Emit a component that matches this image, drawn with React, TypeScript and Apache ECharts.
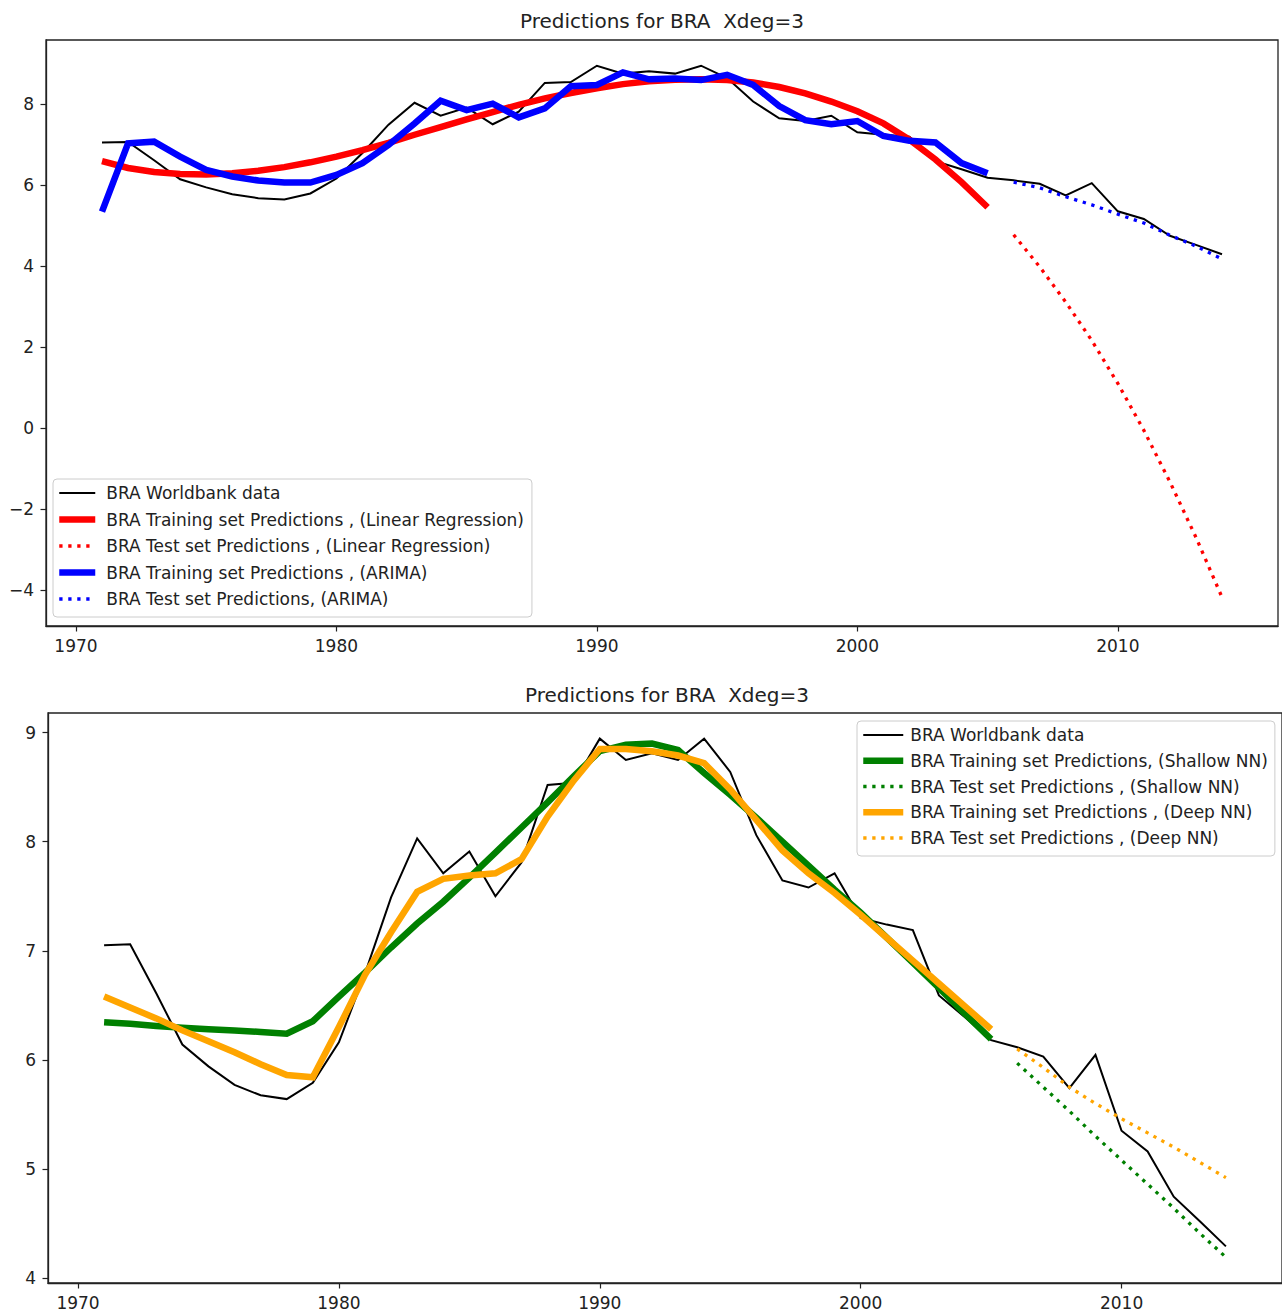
import React, { useEffect, useRef } from "react";
import * as echarts from "echarts";

const FONT = "DejaVu Sans";

// ---------- data ----------
const years = [
  1971, 1972, 1973, 1974, 1975, 1976, 1977, 1978, 1979, 1980,
  1981, 1982, 1983, 1984, 1985, 1986, 1987, 1988, 1989, 1990,
  1991, 1992, 1993, 1994, 1995, 1996, 1997, 1998, 1999, 2000,
  2001, 2002, 2003, 2004, 2005, 2006, 2007, 2008, 2009, 2010,
  2011, 2012, 2013, 2014,
];
const trainYears = years.slice(0, 35);
const testYears = years.slice(35);

const worldbank = [
  7.05, 7.06, 6.61, 6.14, 5.94, 5.77, 5.675, 5.64, 5.79, 6.16,
  6.79, 7.49, 8.03, 7.71, 7.91, 7.5, 7.81, 8.52, 8.54, 8.945,
  8.75, 8.81, 8.75, 8.945, 8.64, 8.06, 7.645, 7.58, 7.71, 7.3,
  7.24, 7.19, 6.59, 6.39, 6.18, 6.115, 6.03, 5.74, 6.045, 5.35,
  5.16, 4.745, 4.52, 4.29,
];

const lrTrain = [
  6.59, 6.42, 6.32, 6.27, 6.26, 6.29, 6.35, 6.44, 6.56, 6.7,
  6.86, 7.04, 7.24, 7.43, 7.62, 7.8, 7.98, 8.14, 8.27, 8.39,
  8.49, 8.56, 8.6, 8.61, 8.59, 8.53, 8.42, 8.26, 8.06, 7.82,
  7.52, 7.12, 6.63, 6.07, 5.45,
];
const lrTest = [4.77, 3.98, 3.11, 2.16, 1.1, -0.06, -1.33, -2.7, -4.18];

const arimaTrain = [
  5.34, 7.03, 7.07, 6.7, 6.37, 6.21, 6.11, 6.06, 6.06, 6.25,
  6.54, 6.99, 7.52, 8.08, 7.85, 8.01, 7.67, 7.89, 8.44, 8.47,
  8.78, 8.61, 8.63, 8.59, 8.72, 8.47, 7.95, 7.6, 7.5, 7.58,
  7.21, 7.09, 7.05, 6.54, 6.29,
];
const arimaTest = [6.07, 5.93, 5.71, 5.51, 5.28, 5.06, 4.76, 4.49, 4.17];

const shallowTrain = [
  6.345, 6.33, 6.31, 6.295, 6.28, 6.27, 6.255, 6.24, 6.354, 6.58,
  6.8, 7.03, 7.25, 7.45, 7.67, 7.9, 8.13, 8.36, 8.6, 8.83,
  8.89, 8.9, 8.84, 8.63, 8.43, 8.22, 8.0, 7.78, 7.56, 7.35,
  7.12, 6.89, 6.66, 6.42, 6.19,
];
const shallowTest = [5.97, 5.75, 5.53, 5.3, 5.08, 4.86, 4.64, 4.41, 4.19];

const deepTrain = [
  6.58, 6.48, 6.38, 6.27, 6.17, 6.07, 5.96, 5.86, 5.84, 6.3,
  6.78, 7.17, 7.54, 7.66, 7.69, 7.71, 7.84, 8.23, 8.56, 8.85,
  8.85, 8.83, 8.79, 8.72, 8.48, 8.2, 7.92, 7.71, 7.53, 7.33,
  7.12, 6.91, 6.7, 6.49, 6.28,
];
const deepTest = [6.1, 5.93, 5.75, 5.6, 5.46, 5.33, 5.2, 5.06, 4.92];

const xTicks = [1970, 1980, 1990, 2000, 2010];
const yTicksTop = [-4, -2, 0, 2, 4, 6, 8];
const yTicksBottom = [4, 5, 6, 7, 8, 9];

const titleText = "Predictions for BRA  Xdeg=3";

const nWorld = "BRA Worldbank data";
const nLrTrain = "BRA Training set Predictions , (Linear Regression)";
const nLrTest = "BRA Test set Predictions , (Linear Regression)";
const nArTrain = "BRA Training set Predictions , (ARIMA)";
const nArTest = "BRA Test set Predictions, (ARIMA)";
const nShTrain = "BRA Training set Predictions, (Shallow NN)";
const nShTest = "BRA Test set Predictions , (Shallow NN)";
const nDpTrain = "BRA Training set Predictions , (Deep NN)";
const nDpTest = "BRA Test set Predictions , (Deep NN)";

// ---------- styles ----------
const AX = "#222222";
const DOT = [3.3, 5.7];
const THICK = 6.5;
const THIN = 2;
const DOTW = 3.3;

const pairs = (xs: number[], vs: number[]) => vs.map((v, i) => [xs[i], v]);

const fmtY = (v: number) => (v < 0 ? "\u2212" + Math.abs(v) : String(v));

function xAxisCfg(gridIndex: number) {
  return {
    type: "value",
    gridIndex,
    min: 1968.85,
    max: 2016.15,
    axisLine: { show: true, onZero: false, lineStyle: { color: AX, width: 1.3 } },
    axisTick: { show: true, length: 5.5, customValues: xTicks, lineStyle: { color: AX, width: 1.2 } },
    axisLabel: {
      customValues: xTicks,
      margin: 11,
      fontSize: 17,
      fontFamily: FONT,
      color: AX,
      formatter: (v: number) => String(v),
    },
    splitLine: { show: false },
  };
}

function yAxisCfg(gridIndex: number, min: number, max: number, ticks: number[]) {
  return {
    type: "value",
    gridIndex,
    min,
    max,
    axisLine: { show: true, onZero: false, lineStyle: { color: AX, width: 1.3 } },
    axisTick: { show: true, length: 5.5, customValues: ticks, lineStyle: { color: AX, width: 1.2 } },
    axisLabel: {
      customValues: ticks,
      margin: 12,
      fontSize: 17,
      fontFamily: FONT,
      color: AX,
      formatter: fmtY,
    },
    splitLine: { show: false },
  };
}

function lineSeries(
  name: string,
  data: number[][],
  color: string,
  width: number,
  dotted: boolean,
  axisIndex: number,
  z: number
) {
  return {
    type: "line",
    name,
    data,
    xAxisIndex: axisIndex,
    yAxisIndex: axisIndex,
    showSymbol: false,
    symbol: "none",
    z,
    lineStyle: {
      color,
      width,
      type: dotted ? DOT : "solid",
      cap: "butt",
      join: "miter",
    },
    itemStyle: { color },
    emphasis: { disabled: true },
    silent: true,
  };
}

function legendItem(name: string, color: string, width: number, dotted: boolean) {
  return {
    name,
    itemStyle: { opacity: 0 },
    lineStyle: { color, width, type: dotted ? DOT : "solid", cap: "butt" },
  };
}

const legendBase = {
  orient: "vertical",
  itemWidth: 36,
  itemHeight: 14,
  selectedMode: false,
  backgroundColor: "rgba(255,255,255,0.85)",
  borderColor: "#cccccc",
  borderWidth: 1,
  borderRadius: 4,
  textStyle: {
    fontSize: 17,
    fontFamily: FONT,
    color: AX,
    lineHeight: 20,
    padding: [0, 0, 0, 6],
  },
};

export default function App() {
  const ref = useRef<HTMLDivElement>(null);

  useEffect(() => {
    if (!ref.current) return;
    const chart = echarts.init(ref.current, undefined, { renderer: "svg" });

    const option: any = {
      animation: false,
      backgroundColor: "#ffffff",
      grid: [
        {
          left: 46, top: 40, width: 1232, height: 586,
          show: true, borderColor: AX, borderWidth: 1.3, backgroundColor: "transparent",
        },
        {
          left: 48, top: 713, width: 1238, height: 570,
          show: true, borderColor: AX, borderWidth: 1.3, backgroundColor: "transparent",
        },
      ],
      xAxis: [xAxisCfg(0), xAxisCfg(1)],
      yAxis: [
        yAxisCfg(0, -4.89, 9.58, yTicksTop),
        yAxisCfg(1, 3.954, 9.18, yTicksBottom),
      ],
      legend: [
        {
          ...legendBase,
          left: 53,
          top: 479,
          itemGap: 6.5,
          padding: [4, 8, 8, 3],
          data: [
            legendItem(nWorld, "#000000", THIN, false),
            legendItem(nLrTrain, "#ff0000", THICK, false),
            legendItem(nLrTest, "#ff0000", DOTW, true),
            legendItem(nArTrain, "#0000ff", THICK, false),
            legendItem(nArTest, "#0000ff", DOTW, true),
          ],
        },
        {
          ...legendBase,
          left: 857,
          top: 721,
          itemWidth: 40,
          itemGap: 5.75,
          padding: [4, 7, 8, 3],
          textStyle: { ...legendBase.textStyle, padding: [0, 0, 0, 2] },
          data: [
            legendItem(nWorld, "#000000", THIN, false),
            legendItem(nShTrain, "#008000", THICK, false),
            legendItem(nShTest, "#008000", DOTW, true),
            legendItem(nDpTrain, "#ffa500", THICK, false),
            legendItem(nDpTest, "#ffa500", DOTW, true),
          ],
        },
      ],
      graphic: [
        {
          type: "text",
          x: 662,
          y: 21,
          silent: true,
          style: {
            text: titleText,
            align: "center",
            verticalAlign: "middle",
            textAlign: "center",
            textVerticalAlign: "middle",
            fontSize: 20,
            fontFamily: FONT,
            fill: AX,
          },
        },
        {
          type: "text",
          x: 667,
          y: 695,
          silent: true,
          style: {
            text: titleText,
            align: "center",
            verticalAlign: "middle",
            textAlign: "center",
            textVerticalAlign: "middle",
            fontSize: 20,
            fontFamily: FONT,
            fill: AX,
          },
        },
      ],
      series: [
        lineSeries(nWorld, pairs(years, worldbank), "#000000", THIN, false, 0, 2),
        lineSeries(nLrTrain, pairs(trainYears, lrTrain), "#ff0000", THICK, false, 0, 3),
        lineSeries(nLrTest, pairs(testYears, lrTest), "#ff0000", DOTW, true, 0, 4),
        lineSeries(nArTrain, pairs(trainYears, arimaTrain), "#0000ff", THICK, false, 0, 5),
        lineSeries(nArTest, pairs(testYears, arimaTest), "#0000ff", DOTW, true, 0, 6),
        lineSeries(nWorld, pairs(years, worldbank), "#000000", THIN, false, 1, 2),
        lineSeries(nShTrain, pairs(trainYears, shallowTrain), "#008000", THICK, false, 1, 3),
        lineSeries(nShTest, pairs(testYears, shallowTest), "#008000", DOTW, true, 1, 4),
        lineSeries(nDpTrain, pairs(trainYears, deepTrain), "#ffa500", THICK, false, 1, 5),
        lineSeries(nDpTest, pairs(testYears, deepTest), "#ffa500", DOTW, true, 1, 6),
      ],
    };

    chart.setOption(option);
    return () => chart.dispose();
  }, []);

  return (
    <div
      ref={ref}
      style={{ position: "absolute", left: 0, top: 0, width: 1282, height: 1313, background: "#fff" }}
    />
  );
}
